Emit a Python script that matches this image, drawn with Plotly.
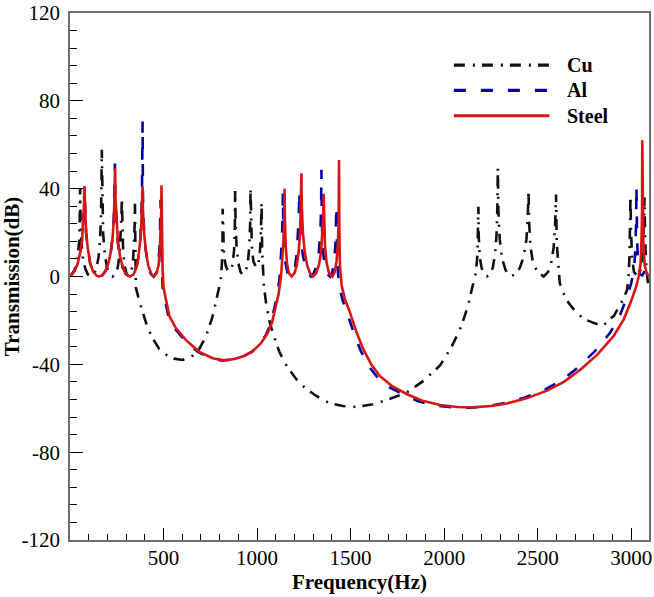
import plotly.graph_objects as go

# ---------------- data ----------------
# Cu : (frequency Hz, transmission dB)
cu_pts = [
    (0, 0), (25, 3), (40, 8), (48, 15), (52, 25), (54, 40.3),
    (56, 28), (60, 17), (68, 9), (80, 4), (95, 1), (111, 0), (128, 1), (142, 4), (153, 9), (161, 17), (166, 28), (170, 57.7),
    (172, 35), (177, 20), (186, 10), (198, 4), (212, 1), (227, 0), (242, 1), (255, 4), (265, 10), (272, 20), (275, 28), (277, 35.7),
    (279, 22), (284, 12), (292, 5), (303, 1), (316, 0), (328, 2), (337, 7), (343, 15), (346, 24), (347, 33.1),
    (349, 10), (352, -5), (370, -11), (409, -21.8), (440, -28), (477, -33), (520, -36), (557, -37.4), (602, -38), (650, -36.5),
    (691, -33), (727, -27.3), (763, -18), (790, -8), (805, -2), (812, 6), (815, 14), (816, 30.8),
    (818, 18), (823, 10), (832, 5), (842, 3), (852, 2.3), (862, 3), (870, 6), (877, 12), (881, 22), (883, 39),
    (885, 25), (890, 14), (900, 6), (912, 2), (924, 0.8), (938, 2), (950, 6), (958, 13), (963, 24), (965, 40.3),
    (967, 25), (972, 14), (980, 7), (995, 4), (1008, 6), (1016, 12), (1021, 22), (1024, 33.5),
    (1027, 12), (1031, 2), (1036, -4), (1048, -12), (1065, -20), (1085, -26), (1120, -34.5), (1160, -41), (1210, -46.8),
    (1260, -51), (1317, -54.4), (1390, -57.8), (1459, -59), (1530, -59.4), (1619, -58.2), (1700, -56), (1799, -52.9),
    (1890, -47.5), (1978, -40.5), (2040, -32), (2090, -23), (2125, -14), (2154, -4), (2170, 2), (2178, 10), (2181, 18), (2183, 31.7),
    (2185, 18), (2190, 9), (2200, 4), (2213, 1), (2228, 0), (2245, 1), (2260, 4), (2272, 10), (2280, 19), (2284, 30), (2287, 49.4),
    (2290, 30), (2297, 17), (2310, 8), (2328, 3), (2353, 0), (2380, 1), (2405, 4), (2425, 9), (2440, 17), (2447, 27), (2451, 39.2),
    (2454, 25), (2461, 14), (2475, 6), (2500, 2), (2532, 0), (2555, 2), (2572, 6), (2585, 13), (2593, 23), (2598, 37.3),
    (2602, 15), (2610, 3), (2618, -3), (2636, -7.4), (2665, -12), (2707, -16.5), (2750, -19.5), (2796, -21), (2830, -22.2),
    (2850, -22.6), (2880, -19.5), (2907, -18), (2940, -13), (2960, -10), (2978, -6), (2986, 0), (2991, 10), (2994, 20), (2996, 36.7),
    (2999, 20), (3005, 8), (3015, 2), (3035, 0), (3050, 3), (3060, 10), (3066, 20), (3071, 36),
    (3074, 18), (3080, 5), (3088, -2), (3095, -5),
]

# Al
al_pts = [
    (0, 0), (20, 2), (40, 5.5), (55, 11), (65, 17), (71, 25), (75, 33), (77, 41),
    (80, 30), (86, 20), (95, 13), (108, 6), (125, 2), (145, 0.2), (158, 0), (172, 0.5), (190, 2.5), (205, 6), (218, 11), (228, 18), (234, 27), (238, 38), (240, 51.4),
    (242, 36), (247, 25), (255, 16), (267, 9), (282, 4), (300, 1), (320, 0), (340, 1), (355, 4), (366, 9), (375, 16), (381, 26), (385, 40), (388, 70.6),
    (390, 35), (396, 20), (405, 12), (418, 5), (433, 1), (447, 0), (460, 1.5), (470, 5), (477, 11), (481, 20), (484, 35),
    (487, 20), (490, 3), (495, -5), (508, -10.8), (526, -18.3), (561, -23.8), (615, -29.3), (686, -34.5), (758, -37.3), (816, -38.3),
    (875, -37.7), (925, -36.4), (972, -34.3), (1014, -30.8), (1048, -26.5), (1073, -21.5), (1092, -15), (1107, -9), (1120, -1),
    (1128, 8), (1133, 17), (1136, 26), (1138, 38),
    (1140, 25), (1145, 14), (1152, 6), (1163, 1.5), (1178, 0), (1193, 1.5), (1204, 5), (1213, 11), (1220, 20), (1223, 28), (1226, 39),
    (1228, 28), (1234, 18), (1244, 10), (1257, 4.5), (1272, 1.5), (1288, 0), (1303, 1.5), (1318, 5), (1330, 11), (1338, 20), (1342, 30), (1344, 48.6),
    (1346, 25), (1351, 14), (1359, 6), (1372, 1.5), (1390, 0), (1402, 2), (1412, 7), (1419, 15), (1422, 22), (1424, 32.2),
    (1427, 15), (1431, 3), (1440, -5), (1458, -11), (1483, -17), (1518, -26), (1555, -34), (1598, -41), (1644, -46), (1708, -50.5),
    (1787, -54), (1868, -57), (1966, -58.9), (2058, -59.7), (2144, -59.7), (2238, -59), (2323, -57.6), (2428, -55.2), (2538, -51.5),
    (2628, -47.3), (2714, -41.5), (2804, -34.2), (2888, -25.5), (2940, -17.5), (2975, -10), (3000, -3), (3015, 3), (3022, 12), (3026, 25), (3028, 41.3),
    (3031, 18), (3036, 6), (3045, 1), (3060, 0.5), (3075, 3), (3095, 7),
]

# Steel
steel_pts = [
    (0, 0), (20, 2), (40, 5.5), (55, 11), (65, 17), (71, 25), (75, 33), (77, 41),
    (80, 30), (86, 20), (95, 13), (108, 6), (125, 2), (145, 0.2), (158, 0), (172, 0.5), (190, 2.5), (205, 6), (218, 11), (228, 18), (235, 27), (239, 36), (241, 49.5),
    (243, 36), (248, 25), (256, 16), (268, 9), (283, 4), (300, 1), (320, 0), (340, 1), (355, 4), (366, 9), (375, 16), (381, 24), (385, 32), (388, 41),
    (390, 30), (396, 20), (405, 12), (418, 5), (435, 1), (450, 0), (463, 1.5), (473, 5), (480, 11), (485, 20), (488, 30), (489, 41.5),
    (492, 20), (495, 3), (500, -5), (513, -10.6), (531, -18), (566, -23.5), (620, -29), (691, -34.3), (763, -37.2), (822, -38.2),
    (880, -37.6), (930, -36.2), (977, -34), (1020, -30.5), (1055, -26), (1080, -21), (1100, -14), (1115, -8), (1128, 0),
    (1136, 8), (1141, 16), (1145, 26), (1147, 40),
    (1149, 25), (1153, 14), (1160, 6), (1170, 1.5), (1185, 0), (1200, 1.5), (1212, 5), (1222, 11), (1230, 20), (1234, 30), (1237, 47),
    (1239, 32), (1245, 20), (1255, 11), (1268, 5), (1283, 1.5), (1299, 0), (1315, 1.5), (1330, 5), (1342, 11), (1350, 20), (1354, 28), (1356, 37.7),
    (1358, 25), (1363, 14), (1372, 6), (1385, 1.5), (1403, 0), (1415, 2), (1425, 7), (1432, 15), (1436, 25), (1438, 53),
    (1440, 20), (1443, 5), (1452, -4), (1470, -10.5), (1495, -16), (1530, -25), (1567, -33), (1610, -40), (1656, -45.3), (1720, -49.8),
    (1799, -53.5), (1880, -56.5), (1978, -58.5), (2070, -59.4), (2156, -59.6), (2250, -59), (2335, -57.8), (2440, -55.5), (2550, -52),
    (2640, -48), (2728, -42.5), (2820, -35.5), (2907, -27), (2960, -19.5), (2996, -12), (3025, -5), (3040, 0), (3050, 6), (3055, 17), (3058, 30), (3059, 62),
    (3061, 35), (3065, 15), (3072, 5), (3085, 1), (3095, 0),
]

series_names = ["Cu", "Al", "Steel"]
x_tickvals = [500, 1000, 1500, 2000, 2500, 3000]
x_ticktext = ["500", "1000", "1500", "2000", "2500", "3000"]
y_tickvals = [-120, -80, -40, 0, 40, 80, 120]
y_ticktext = ["-120", "-80", "-40", "0", "40", "80", "120"]

# ---------------- styles ----------------
styles = {
    "Cu": dict(color="#111111", width=2.6, dash="11px,8px,2px,7px"),
    "Al": dict(color="#0000a8", width=2.6, dash="12px,15px"),
    "Steel": dict(color="#d81414", width=2.6, dash="solid"),
}
FONT = "Liberation Serif, Times New Roman, serif"

fig = go.Figure()
for name, pts in zip(series_names, [cu_pts, al_pts, steel_pts]):
    fig.add_trace(go.Scatter(
        x=[p[0] for p in pts], y=[p[1] for p in pts], mode="lines", name=name,
        line=styles[name], showlegend=False,
    ))

# manual legend (long line samples as in the reference)
leg_x0, leg_x1, leg_tx = 0.663, 0.828, 0.855
leg_ys = [0.901, 0.853, 0.805]
for name, ly in zip(series_names, leg_ys):
    st = styles[name]
    fig.add_shape(type="line", xref="paper", yref="paper", x0=leg_x0, x1=leg_x1, y0=ly, y1=ly,
                  line=dict(color=st["color"], width=3.2, dash=st["dash"]))
    fig.add_annotation(xref="paper", yref="paper", x=leg_tx, y=ly, text="<b>%s</b>" % name,
                       showarrow=False, xanchor="left", yanchor="middle",
                       font=dict(family=FONT, size=20, color="black"))

axis_common = dict(
    showgrid=False, zeroline=False, showline=True, mirror=True, automargin=False,
    linecolor="#6e6e6e", linewidth=1.5, ticks="inside", tickcolor="black", tickwidth=1.2,
    tickfont=dict(family=FONT, size=21, color="black"), ticklabeloverflow="allow",
)

fig.update_xaxes(
    range=[0, 3095], tickmode="array", tickvals=x_tickvals, ticktext=x_ticktext, ticklen=12,
    ticklabelstandoff=-2,
    minor=dict(dtick=100, tick0=0, ticks="inside", ticklen=6, tickcolor="black", tickwidth=1.2),
    title=dict(text="<b>Frequency(Hz)</b>", font=dict(family=FONT, size=21, color="black"), standoff=4),
    **axis_common,
)
fig.update_yaxes(
    range=[-120, 120], tickmode="array", tickvals=y_tickvals, ticktext=y_ticktext, ticklen=13,
    ticklabelstandoff=4,
    minor=dict(dtick=8, tick0=0, ticks="inside", ticklen=7, tickcolor="black", tickwidth=1.2),
    title=dict(text="<b>Transmission(dB)</b>", font=dict(family=FONT, size=21, color="black"), standoff=0),
    **axis_common,
)

fig.update_layout(
    width=654, height=597,
    margin=dict(l=70, r=5, t=13, b=57),
    paper_bgcolor="white", plot_bgcolor="white",
    showlegend=False,
)

# remove the default page margin so the figure sits at the window's top-left corner
fig.write_html(
    "out.html",
    config={"displayModeBar": False},
    post_script="document.body.style.margin='0';document.body.style.overflow='hidden';",
)
